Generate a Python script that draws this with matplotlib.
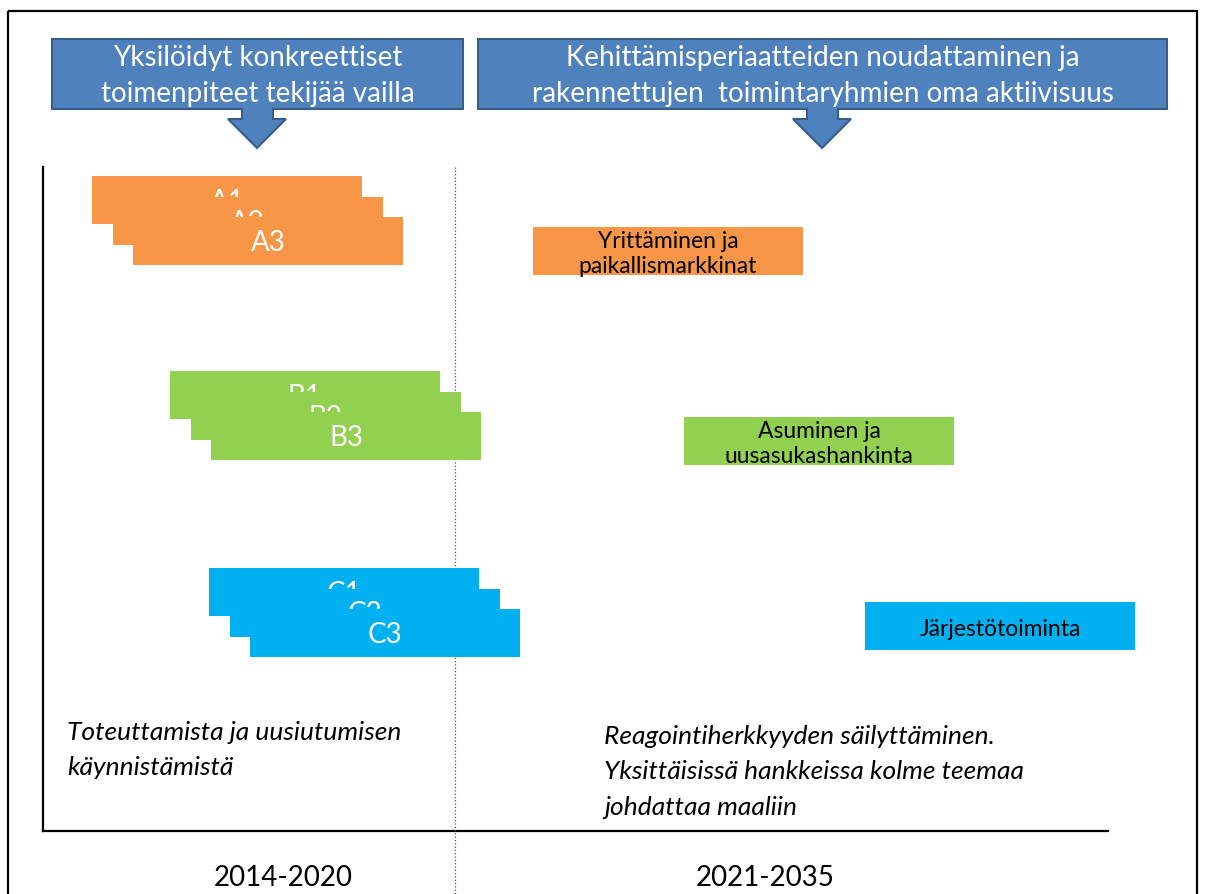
import matplotlib
matplotlib.use("Agg")
import matplotlib.pyplot as plt
from matplotlib.patches import Polygon, Rectangle

plt.rcParams["font.family"] = ["Lato", "DejaVu Sans"]

# --- data (diagram units = reference pixels) ---
stack_labels = [["A1", "A2", "A3"], ["B1", "B2", "B3"], ["C1", "C2", "C3"]]
stack_colors = ["#F79646", "#92D050", "#00B0F0"]
stack_start = [92, 170, 209]
stack_top = [177, 372, 569]
stack_len = 270
stack_step = 20.5
bar_h = 48

theme_labels = ["Yrittäminen ja\npaikallismarkkinat", "Asuminen ja\nuusasukashankinta", "Järjestötoiminta"]
theme_start = [533, 684, 865]
theme_top = [228, 418, 603]
theme_len = 270

callout_texts = ["Yksilöidyt konkreettiset\ntoimenpiteet tekijää vailla",
                 "Kehittämisperiaatteiden noudattaminen ja\nrakennettujen  toimintaryhmien oma aktiivisuus"]
callout_x = [(52, 463), (478, 1167)]
callout_tip = [257, 822]

period_labels = ["2014-2020", "2021-2035"]
period_x = [283, 765]
period_split = 455

notes = ["Toteuttamista ja uusiutumisen\nkäynnistämistä",
         "Reagointiherkkyyden säilyttäminen.\nYksittäisissä hankkeissa kolme teemaa\njohdattaa maaliin"]
notes_x = [67, 604]
notes_y = [750, 772]

W, H = 1206, 895
fig = plt.figure(figsize=(W / 100, H / 100), dpi=100)
ax = fig.add_axes([0, 0, 1, 1])
ax.set_xlim(0, W)
ax.set_ylim(H, 0)
ax.axis("off")

# outer frame
ax.add_patch(Rectangle((8, 12), 1189, 1000, fill=False, edgecolor="black", linewidth=1.6))

# callouts (down-arrow boxes)
box_top, box_bot = 40, 110
for (x0, x1), tip, txt in zip(callout_x, callout_tip, callout_texts):
    pts = [(x0, box_top), (x1, box_top), (x1, box_bot),
           (tip + 16, box_bot), (tip + 16, 120), (tip + 29, 120), (tip, 149),
           (tip - 29, 120), (tip - 15, 120), (tip - 15, box_bot), (x0, box_bot)]
    ax.add_patch(Polygon(pts, closed=True, facecolor="#4F81BD", edgecolor="#385D8A",
                         linewidth=1.5, zorder=2))
    ax.text((x0 + x1) / 2, 76, txt, color="white", fontsize=20, ha="center", va="center",
            linespacing=1.45, zorder=3)

# axis lines
ax.plot([43, 43], [168, 832], color="black", linewidth=1.6)
ax.plot([43, 1108], [832, 832], color="black", linewidth=1.6)
ax.plot([period_split, period_split], [168, H], color="red", linewidth=0.9, linestyle=":")

# stacked bars
for gi, labels in enumerate(stack_labels):
    for k, lab in enumerate(labels):
        left = stack_start[gi] + k * stack_step
        yc = stack_top[gi] + k * stack_step + bar_h / 2
        z = 4 + k
        ax.barh(yc, stack_len, left=left, height=bar_h, color=stack_colors[gi], zorder=z)
        ax.text(left + stack_len / 2, yc + 1, lab, color="white", fontsize=20,
                ha="center", va="center", zorder=z + 0.5)

# theme boxes
for lab, x0, y0, c in zip(theme_labels, theme_start, theme_top, stack_colors):
    ax.barh(y0 + bar_h / 2, theme_len, left=x0, height=bar_h, color=c, zorder=4)
    ax.text(x0 + theme_len / 2, y0 + bar_h / 2 + 2, lab, color="black", fontsize=16.5,
            ha="center", va="center", linespacing=1.2, zorder=5)

# notes
for txt, x, y in zip(notes, notes_x, notes_y):
    ax.text(x, y, txt, fontsize=19, style="italic", ha="left", va="center",
            linespacing=1.65)

# periods
for lab, x in zip(period_labels, period_x):
    ax.text(x, 878, lab, fontsize=20, ha="center", va="center")

fig.savefig("out.png", dpi=100, facecolor="white")
